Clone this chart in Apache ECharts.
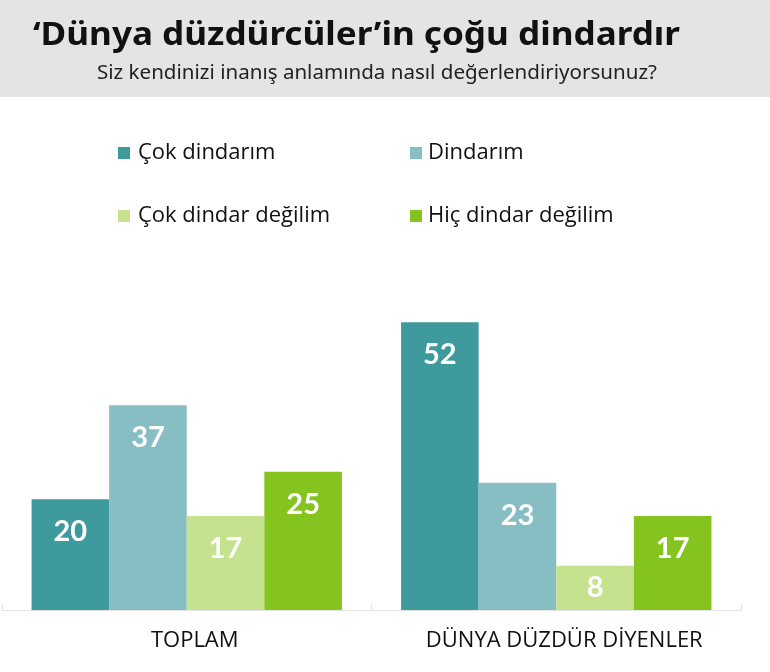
<!DOCTYPE html>
<html>
<head>
<meta charset="utf-8">
<script src="https://cdn.jsdelivr.net/npm/echarts@6/dist/echarts.min.js"></script>
<style>
  html, body { margin: 0; padding: 0; background: #fff; }
  #chart { width: 770px; height: 672px; }
</style>
</head>
<body>
<div id="chart"></div>
<script>
const categories = ['TOPLAM', 'DÜNYA DÜZDÜR DİYENLER'];
const seriesNames = ['Çok dindarım', 'Dindarım', 'Çok dindar değilim', 'Hiç dindar değilim'];
const cokDindarim = [20, 52];
const dindarim = [37, 23];
const cokDindarDegilim = [17, 8];
const hicDindarDegilim = [25, 17];
const colors = ['#3f9a9d', '#86bec4', '#c5e28f', '#85c41f'];

const titleText = '‘Dünya düzdürcüler’in çoğu dindardır';
const subText = 'Siz kendinizi inanış anlamında nasıl değerlendiriyorsunuz?';
const sans = '"Noto Sans", "Open Sans", sans-serif';

// fit the header lines to the widths of the original
const ctx = document.createElement('canvas').getContext('2d');
function squeeze(text, font, target) {
  ctx.font = font;
  return target / ctx.measureText(text).width;
}
const titleScale = squeeze(titleText, 'bold 33px "Noto Sans"', 647);
const subScale = squeeze(subText, '19px "Noto Sans"', 560);

const chart = echarts.init(document.getElementById('chart'));

// short bars get their number centred instead of near the top
const makeData = (values) => values.map((v) => (
  v < 10 ? { value: v, label: { position: 'inside' } } : v
));

const makeSeries = (name, values, color) => ({
  name: name,
  type: 'bar',
  data: makeData(values),
  barGap: 0,
  barCategoryGap: '16%',
  itemStyle: { color: color },
  label: {
    show: true,
    position: 'insideTop',
    distance: 18,
    color: '#fff',
    fontFamily: 'Lato, sans-serif',
    fontWeight: 'bold',
    fontSize: 29
  }
});

chart.setOption({
  backgroundColor: '#fff',
  animation: false,
  graphic: [
    { type: 'rect', shape: { x: 0, y: 0, width: 770, height: 97 }, style: { fill: '#e4e4e4' }, z: -1 },
    {
      type: 'text', x: 33, y: 19, scaleX: titleScale,
      style: { text: titleText, fontFamily: sans, fontWeight: 'bold', fontSize: 33, fill: '#111', verticalAlign: 'top' }
    },
    {
      type: 'text', x: 97, y: 64, scaleX: subScale,
      style: { text: subText, fontFamily: sans, fontSize: 19, fill: '#222', verticalAlign: 'top' }
    }
  ],
  legend: [
    {
      data: [seriesNames[0], seriesNames[2]],
      orient: 'vertical', left: 113, top: 136,
      icon: 'rect', itemWidth: 12, itemHeight: 12, itemGap: 39,
      textStyle: { fontFamily: '"Open Sans", sans-serif', fontSize: 22, color: '#111', lineHeight: 24, padding: [0, 0, 0, 3] }
    },
    {
      data: [seriesNames[1], seriesNames[3]],
      orient: 'vertical', left: 405, top: 136,
      icon: 'rect', itemWidth: 12, itemHeight: 12, itemGap: 39,
      textStyle: { fontFamily: '"Open Sans", sans-serif', fontSize: 22, color: '#111', lineHeight: 24, padding: [0, 0, 0, 1] }
    }
  ],
  grid: { left: 2, width: 739, top: 278, bottom: 62, containLabel: false },
  xAxis: {
    type: 'category',
    data: categories,
    axisLine: { lineStyle: { color: '#e3e3e3' } },
    axisTick: { show: true, inside: true, length: 6, lineStyle: { color: '#e3e3e3' } },
    axisLabel: {
      margin: 20,
      padding: [0, 0, 0, 16],
      fontFamily: '"Open Sans", sans-serif',
      fontSize: 22,
      color: '#111'
    }
  },
  yAxis: {
    type: 'value',
    min: 0,
    max: 60,
    show: false
  },
  series: [
    makeSeries(seriesNames[0], cokDindarim, colors[0]),
    makeSeries(seriesNames[1], dindarim, colors[1]),
    makeSeries(seriesNames[2], cokDindarDegilim, colors[2]),
    makeSeries(seriesNames[3], hicDindarDegilim, colors[3])
  ]
});
</script>
</body>
</html>
